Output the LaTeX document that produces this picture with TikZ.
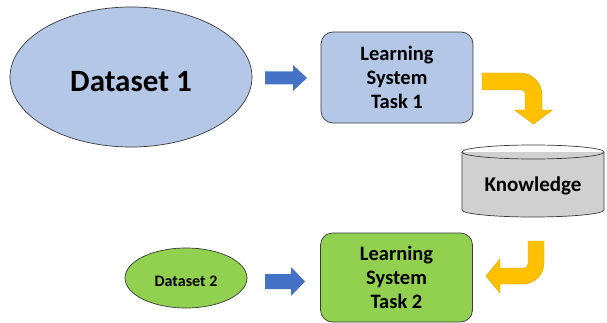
\documentclass[tikz,border=0pt]{standalone}
\usepackage{fontspec}
\setmainfont{Carlito}
\usetikzlibrary{shapes.geometric}
\definecolor{lightblue}{HTML}{B4C7E7}
\definecolor{arrowblue}{HTML}{4472C4}
\definecolor{gold}{HTML}{FFC000}
\definecolor{darkgold}{HTML}{D9A400}
\definecolor{lightgreen}{HTML}{92D050}
\definecolor{storegray}{HTML}{D0D0D0}
\definecolor{edge}{HTML}{3A3A3A}
\tikzset{
  outline/.style={draw=edge, line width=0.7pt},
  dataset/.style={outline, ellipse, inner sep=0pt, font=\bfseries},
  taskbox/.style={outline, rounded corners=12pt, minimum width=152pt,
    inner sep=0pt, align=center, font=\fontsize{20.5}{24}\selectfont\bfseries},
  blockarrow/.style={fill=arrowblue},
  bentarrow/.style={fill=gold, draw=darkgold, line width=0.4pt}
}
\begin{document}
\begin{tikzpicture}[x=1pt,y=-1pt]
\useasboundingbox (0,0) rectangle (607,323);

% datasets
\node[dataset, fill=lightblue, minimum width=242pt, minimum height=140pt,
  font=\fontsize{31}{36}\selectfont\bfseries] (ds1) at (131,77)
  {\raisebox{-4pt}[\height][0pt]{Dataset 1}};
\node[dataset, fill=lightgreen, minimum width=122pt, minimum height=60pt,
  font=\fontsize{16}{19}\selectfont\bfseries] (ds2) at (186,278)
  {\raisebox{-3pt}[\height][0pt]{Dataset 2}};

% learning systems
\node[taskbox, fill=lightblue, minimum height=91pt] (ls1) at (397,77.5)
  {Learning\\System\\Task 1};
\node[taskbox, fill=lightgreen, minimum height=89pt] (ls2) at (396.5,277.5)
  {Learning\\System\\Task 2};

% knowledge store (cylinder)
\fill[storegray] (462,152) rectangle (604,210);
\fill[storegray] (533,210) ellipse [x radius=71pt, y radius=7pt];
\draw[outline] (533,152) ellipse [x radius=71pt, y radius=7pt];
\draw[outline] (462,152) -- (462,210)
  .. controls (462,213.87) and (493.8,217) .. (533,217)
  .. controls (572.2,217) and (604,213.87) .. (604,210) -- (604,152);
\node[font=\fontsize{21}{24}\selectfont\bfseries] (kn) at (533,186) {Knowledge};

% straight block arrows
\fill[blockarrow] (265,71.5) -- (293,71.5) -- (293,65) -- (307,78)
  -- (293,91) -- (293,84.5) -- (265,84.5) -- cycle;
\fill[blockarrow] (265,274) -- (291,274) -- (291,267) -- (305,281.5)
  -- (291,296) -- (291,289) -- (265,289) -- cycle;

% bent arrow: task 1 -> knowledge
\filldraw[bentarrow] (482,73) -- (520,73)
  .. controls (532.15,73) and (542,82.85) .. (542,95)
  -- (542,110) -- (552.5,110) -- (533.5,124) -- (514.5,110) -- (525,110)
  -- (525,93) .. controls (525,91.3) and (523.7,90) .. (522,90)
  -- (482,90) -- cycle;

% bent arrow: knowledge -> task 2
\filldraw[bentarrow] (528,241) -- (544,241) -- (544,263)
  .. controls (544,274.6) and (534.6,284) .. (523,284)
  -- (500,284) -- (500,293) -- (486,276) -- (500,259) -- (500,268)
  -- (524,268) .. controls (526.2,268) and (528,266.2) .. (528,264) -- cycle;
\end{tikzpicture}
\end{document}
